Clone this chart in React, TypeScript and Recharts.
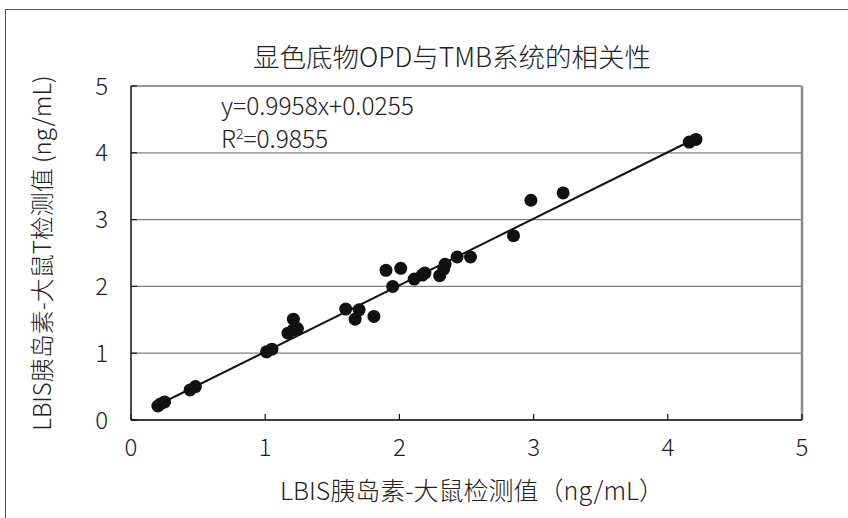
import React from "react";
import {
  ScatterChart,
  Scatter,
  XAxis,
  YAxis,
  CartesianGrid,
  ReferenceLine,
  Customized,
} from "recharts";

// 大鼠检测值 (x) vs 大鼠T检测值 (y), ng/mL
const xValues = [
  0.2, 0.22, 0.25, 0.44, 0.48, 1.01, 1.05, 1.17, 1.21, 1.24, 1.21, 1.6, 1.67, 1.7, 1.81,
  1.9, 1.95, 2.01, 2.11, 2.17, 2.19, 2.3, 2.33, 2.34, 2.43, 2.53, 2.85, 2.98, 3.22, 4.16,
  4.21,
];
const yValues = [
  0.21, 0.24, 0.27, 0.45, 0.5, 1.02, 1.06, 1.3, 1.35, 1.37, 1.51, 1.66, 1.51, 1.65, 1.55,
  2.24, 2.0, 2.27, 2.11, 2.17, 2.2, 2.16, 2.26, 2.33, 2.44, 2.44, 2.76, 3.29, 3.4, 4.16,
  4.2,
];
const axisTicks = [0, 1, 2, 3, 4, 5];

const slope = 0.9958;
const intercept = 0.0255;
const rSquared = 0.9855;

const points = xValues.map((x, i) => ({ x, y: yValues[i] }));
const xMin = Math.min(...xValues);
const xMax = Math.max(...xValues);
const fitLine = [xMin, xMax].map((x) => ({ x, y: slope * x + intercept }));

const FONT = '"Noto Sans CJK SC", "Noto Sans", sans-serif';

function Texts() {
  return (
    <g fontFamily={FONT} fill="#222" fontWeight={300}>
      <text x={452} y={67} textAnchor="middle" fontSize={26.5}>
        显色底物OPD与TMB系统的相关性
      </text>
      <text x={221} y={115} fontSize={24.5}>
        y={slope}x+{intercept}
      </text>
      <text x={221} y={148} fontSize={24.5}>
        R<tspan fontSize={14} dy={-9}>2</tspan>
        <tspan dy={9}>={rSquared}</tspan>
      </text>
      <text x={472} y={500} textAnchor="middle" fontSize={25}>
        LBIS胰岛素-大鼠检测值（ng/mL）
      </text>
      <text
        x={51}
        y={253}
        textAnchor="middle"
        fontSize={24}
        transform="rotate(-90, 51, 253)"
      >
        LBIS胰岛素-大鼠T检测值 (ng/mL)
      </text>
    </g>
  );
}

export default function App() {
  return (
    <div
      style={{
        position: "absolute",
        left: 0,
        top: 0,
        width: 848,
        height: 518,
        overflow: "hidden",
        background: "#fff",
      }}
    >
      <div
        style={{
          position: "absolute",
          left: 5,
          top: 9,
          width: 900,
          height: 600,
          border: "1.5px solid #555",
        }}
      />
      <ScatterChart
        width={848}
        height={518}
        margin={{ top: 86, right: 46, bottom: 0, left: 0 }}
        style={{ position: "absolute", left: 0, top: 0 }}
      >
        <CartesianGrid vertical={false} stroke="#808080" strokeWidth={1.2} />
        <ReferenceLine y={5} stroke="#8c8c8c" strokeWidth={1.5} />
        <ReferenceLine x={5} stroke="#8c8c8c" strokeWidth={2.5} />
        <XAxis
          type="number"
          dataKey="x"
          domain={[0, 5]}
          ticks={axisTicks}
          height={98}
          axisLine={{ stroke: "#111", strokeWidth: 1.5 }}
          tickLine={{ stroke: "#111", strokeWidth: 1.2 }}
          tickSize={-6}
          tickMargin={25}
          tick={{ fill: "#222", fontSize: 24, fontFamily: FONT, fontWeight: 300 }}
          allowDataOverflow
        />
        <YAxis
          type="number"
          dataKey="y"
          domain={[0, 5]}
          ticks={axisTicks}
          width={131}
          axisLine={{ stroke: "#111", strokeWidth: 1.5 }}
          tickLine={{ stroke: "#111", strokeWidth: 1.2 }}
          tickSize={-6}
          tickMargin={29}
          tick={{ fill: "#222", fontSize: 24, fontFamily: FONT, fontWeight: 300 }}
          allowDataOverflow
        />
        <Scatter
          data={fitLine}
          line={{ stroke: "#111", strokeWidth: 2 }}
          shape={() => <g />}
          isAnimationActive={false}
        />
        <Scatter
          data={points}
          fill="#111"
          shape={(p: any) => <circle cx={p.cx} cy={p.cy} r={6.5} fill="#111" />}
          isAnimationActive={false}
        />
        <Customized component={Texts} />
      </ScatterChart>
    </div>
  );
}
